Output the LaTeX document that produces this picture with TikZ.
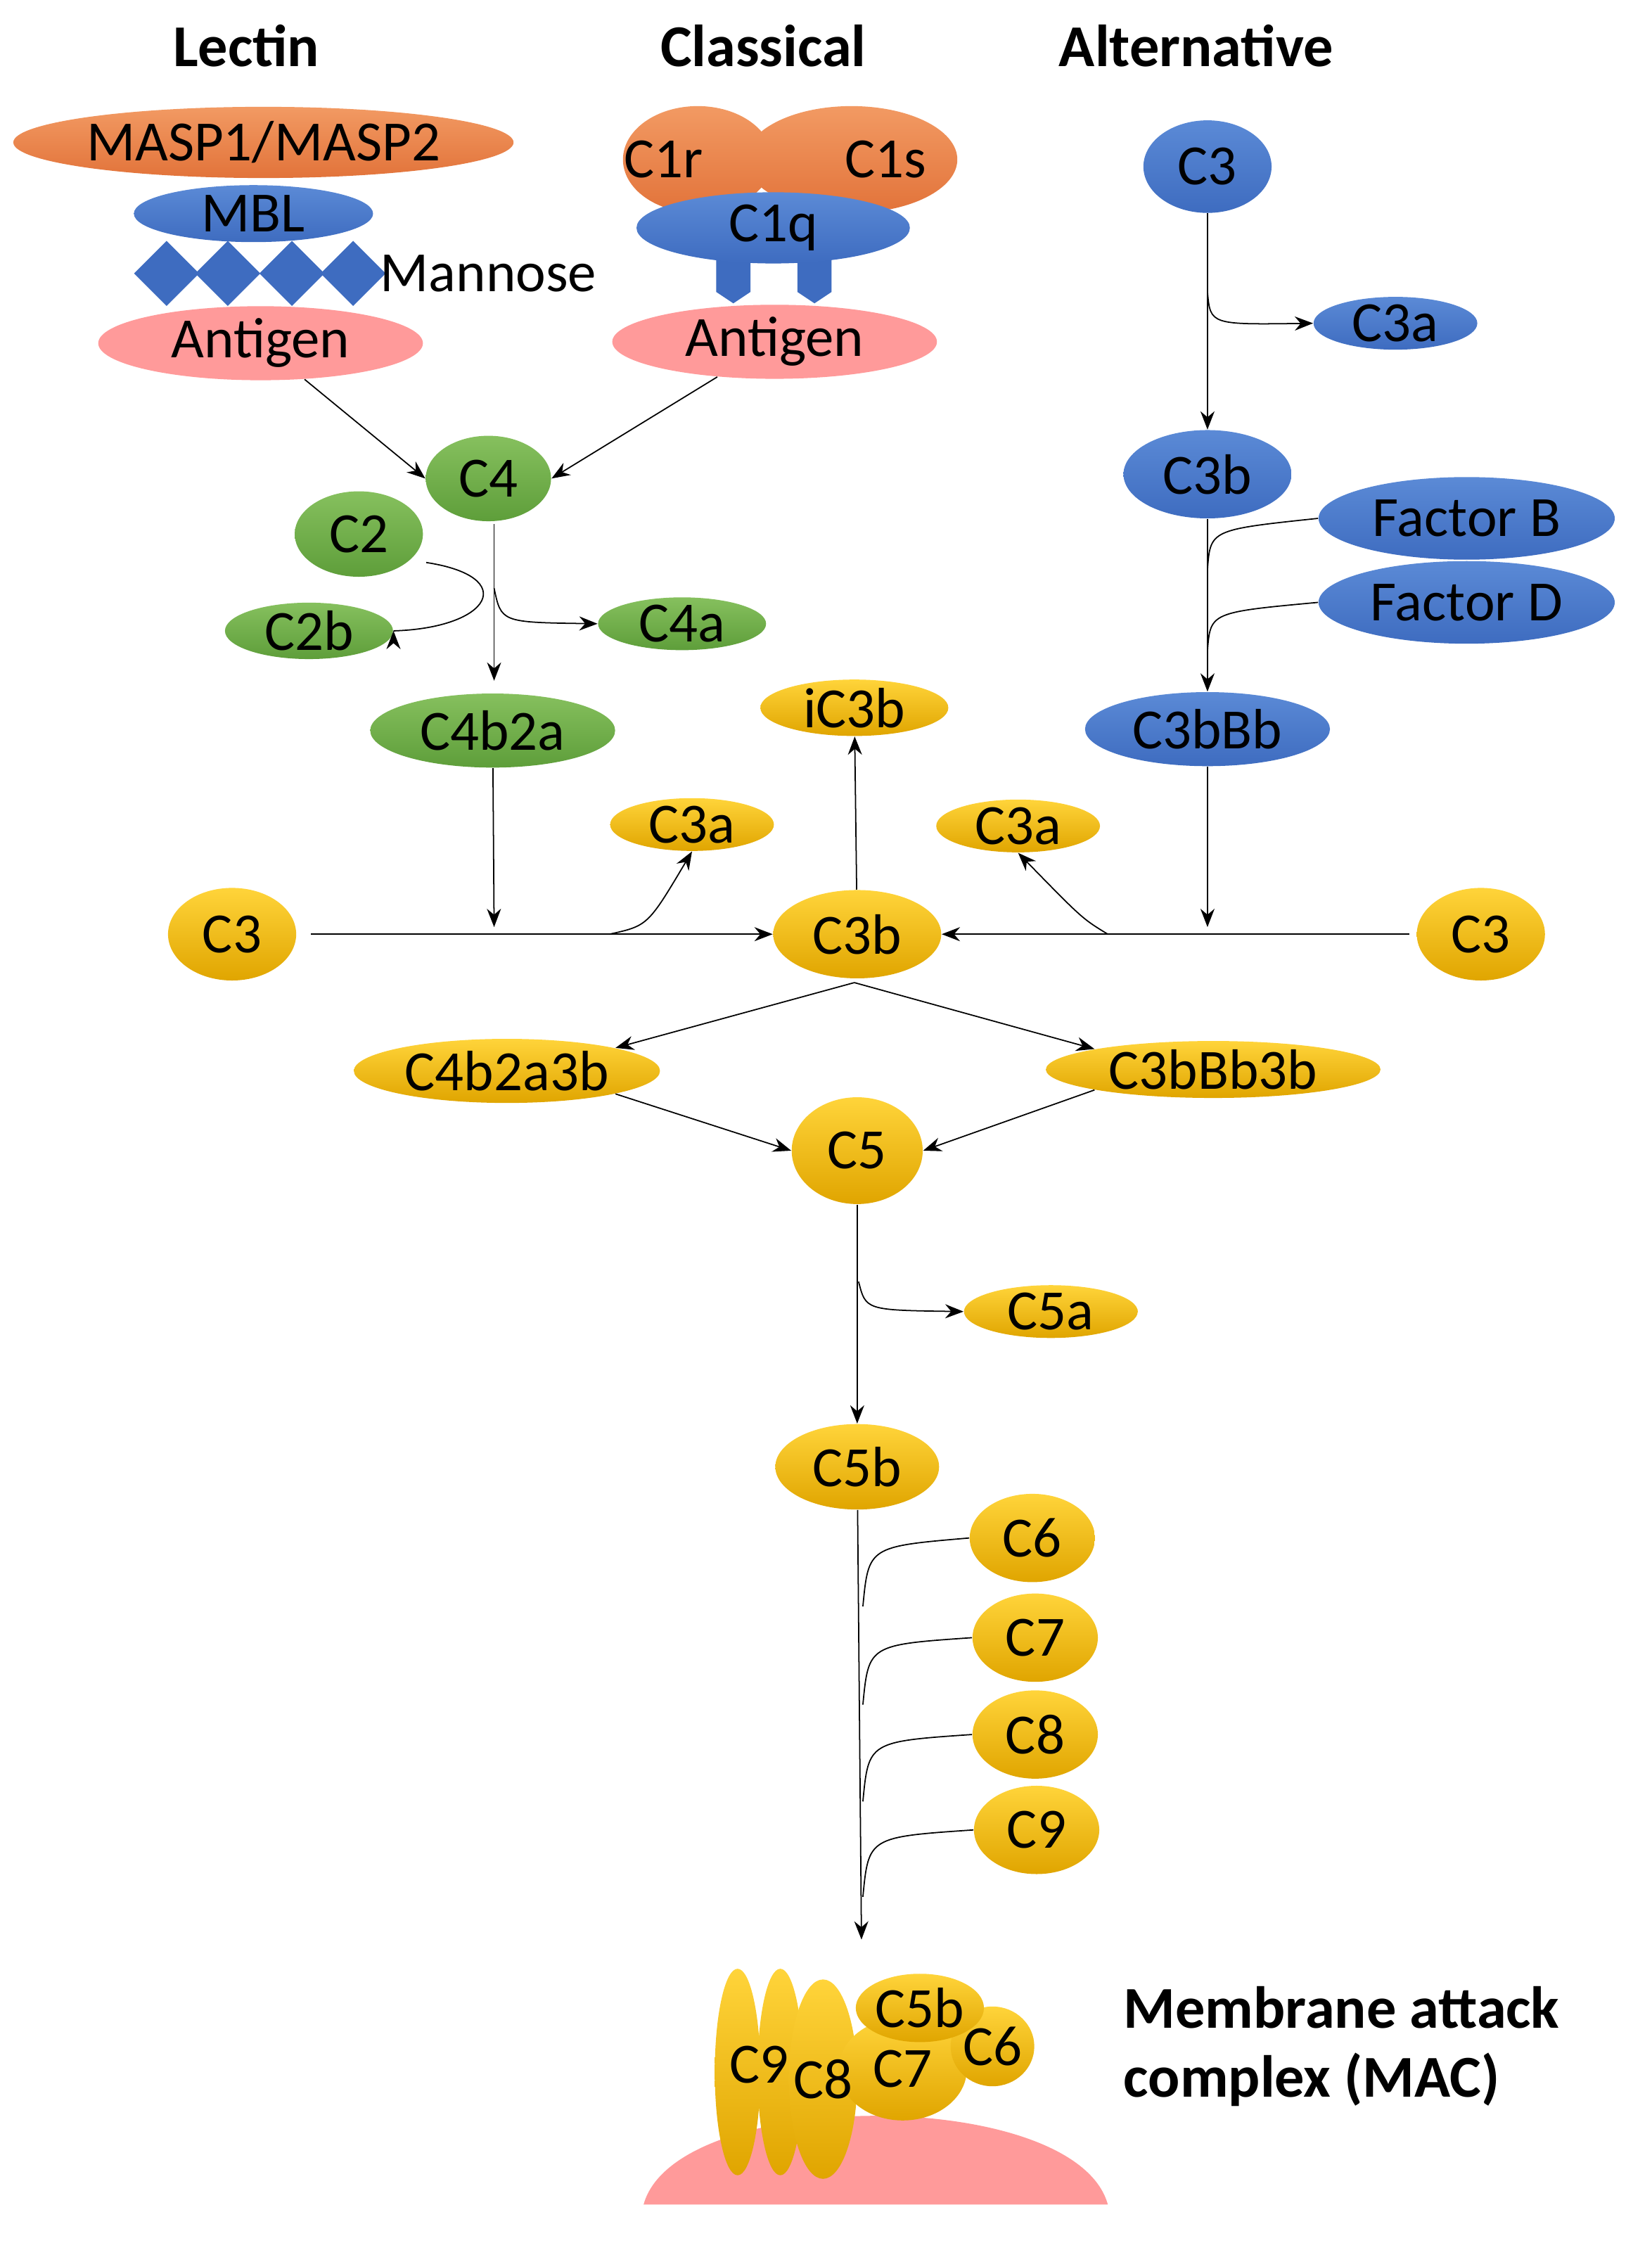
\documentclass[tikz,border=0pt]{standalone}
\usepackage{fontspec}
\setmainfont{Carlito}
\usetikzlibrary{shapes.geometric,arrows.meta}
\definecolor{org}{HTML}{E2733A}\definecolor{orgL}{HTML}{F29A63}
\definecolor{blu}{HTML}{3E6CC0}\definecolor{bluL}{HTML}{5B8AD6}
\definecolor{grn}{HTML}{5E9E3A}\definecolor{grnL}{HTML}{86C05E}
\definecolor{yel}{HTML}{E0A500}\definecolor{yelL}{HTML}{FFD43A}
\definecolor{pnk}{HTML}{FF9A9A}
\begin{document}
\begin{tikzpicture}[x=0.2024mm,y=-0.2024mm,
 e/.style={ellipse,inner sep=0,font=\fontsize{23}{27}\selectfont},
 O/.style={e,top color=orgL,bottom color=org},
 B/.style={e,top color=bluL,bottom color=blu},
 G/.style={e,top color=grnL,bottom color=grn},
 Y/.style={e,top color=yelL,bottom color=yel},
 P/.style={e,fill=pnk},
 sz/.style 2 args={minimum width=#1*0.2024mm,minimum height=#2*0.2024mm},
 ar/.style={-{Stealth[length=2.6mm,width=2mm]},line width=0.5pt},
 ln/.style={line width=0.5pt},
 hd/.style={font=\fontsize{24}{28}\selectfont\bfseries}]
\useasboundingbox (0,0) rectangle (1160,1580);
\node[hd] (h1) at (173,32) {Lectin};
\node[hd] (h2) at (536,32) {Classical};
\node[hd] (h3) at (840,32) {Alternative};
% lectin
\node[O,sz={345}{50}] (masp) at (185,100) {MASP1/MASP2};
\node[B,sz={168}{40}] (mbl) at (178,150) {MBL};
\foreach \x/\n in {117/d1,160/d2,205/d3,248/d4}
  \node[diamond,fill=blu,inner sep=0,minimum size=46*0.2024mm] (\n) at (\x,192) {};
\node[font=\fontsize{23}{27}\selectfont] (man) at (343,192) {Mannose};
\node[P,sz={228}{52}] (agl) at (183,241) {Antigen};
% classical
\node[O,sz={105}{75}] (c1r) at (490,112) {\hspace{-1.2em}C1r};
\node[O,sz={105}{75}] (c1s) at (598,112) {\hspace{1.2em}C1s};
\fill[blu] (503,180) -- (527,180) -- (527,205) -- (515,213) -- (503,205) -- cycle;
\fill[blu] (560,180) -- (584,180) -- (584,205) -- (572,213) -- (560,205) -- cycle;
\node[B,sz={192}{50}] (c1q) at (543,160) {C1q};
\node[P,sz={228}{52}] (agr) at (544,240) {Antigen};
% alternative
\node[B,sz={90}{65}] (c3t) at (848,117) {C3};
\node[B,sz={115}{32}] (c3ab) at (980,227) {C3a};
\node[B,sz={118}{62}] (c3bb) at (848,333) {C3b};
\node[B,sz={208}{58}] (fb) at (1030,364) {Factor B};
\node[B,sz={208}{58}] (fd) at (1030,423) {Factor D};
\node[B,sz={172}{52}] (c3bBb) at (848,512) {C3bBb};
% green
\node[G,sz={88}{60}] (c4) at (343,336) {C4};
\node[G,sz={90}{60}] (c2) at (252,375) {C2};
\node[G,sz={118}{32}] (c2b) at (217,443) {C2b};
\node[G,sz={118}{32}] (c4a) at (479,438) {C4a};
\node[G,sz={172}{52}] (c4b2a) at (346,513) {C4b2a};
% yellow
\node[Y,sz={132}{35}] (ic3b) at (600,497) {iC3b};
\node[Y,sz={115}{32}] (c3al) at (486,579) {C3a};
\node[Y,sz={115}{32}] (c3ar) at (715,580) {C3a};
\node[Y,sz={90}{65}] (c3l) at (163,656) {C3};
\node[Y,sz={118}{62}] (c3b) at (602,656) {C3b};
\node[Y,sz={90}{65}] (c3r) at (1040,656) {C3};
\node[Y,sz={215}{45}] (c4b2a3b) at (356,752) {C4b2a3b};
\node[Y,sz={235}{40}] (c3bBb3b) at (852,751) {C3bBb3b};
\node[Y,sz={92}{75}] (c5) at (602,808) {C5};
\node[Y,sz={122}{32}] (c5a) at (738,921) {C5a};
\node[Y,sz={115}{60}] (c5b) at (602,1030) {C5b};
\node[Y,sz={88}{62}] (c6) at (725,1080) {C6};
\node[Y,sz={88}{62}] (c7) at (727,1150) {C7};
\node[Y,sz={88}{62}] (c8) at (727,1218) {C8};
\node[Y,sz={88}{62}] (c9) at (728,1285) {C9};
% arrows
\draw[ar] (agl) -- (c4.west);
\draw[ar] (agr) -- (c4.east);
\coordinate (k1) at (347,368); \coordinate (k2) at (347,478);
\draw[ar] (k1) -- (k2);
\draw[ar] (c2.east) ++(2,20) .. controls (365,405) and (345,441) .. (c2b.east) ++(0,0);
\coordinate (k3) at (347,413);
\draw[ar] (k3) .. controls (352,437) .. (c4a.west);
\draw[ar] (c3t) -- (c3bb);
\coordinate (k4) at (848,205);
\draw[ar] (k4) .. controls (850,228) .. (c3ab.west);
\draw[ar] (c3bb) -- (c3bBb);
\draw[ln] (fb.west) .. controls (850,372) .. (848,400);
\draw[ln] (fd.west) .. controls (850,430) .. (848,457);
\coordinate (k5) at (347,651);
\draw[ar] (c4b2a) -- (k5);
\draw[ar] (c3l.east) ++(10,0) -- (c3b.west);
\coordinate (k6) at (428,656);
\draw[ar] (k6) .. controls (455,650) .. (c3al.south);
\coordinate (k7) at (848,651);
\draw[ar] (c3bBb) -- (k7);
\draw[ar] (c3r.west) ++(-5,0) -- (c3b.east);
\coordinate (k8) at (778,656);
\draw[ar] (k8) .. controls (760,645) .. (c3ar.south);
\draw[ar] (c3b) -- (ic3b);
\coordinate (k9) at (600,690);
\draw[ar] (k9) -- (c4b2a3b.north east);
\draw[ar] (k9) -- (c3bBb3b.north west);
\draw[ar] (c4b2a3b.south east) -- (c5.west);
\draw[ar] (c3bBb3b.south west) -- (c5.east);
\draw[ar] (c5) -- (c5b);
\coordinate (k10) at (603,900);
\draw[ar] (k10) .. controls (608,920) .. (c5a.west);
\coordinate (k11) at (605,1362);
\draw[ar] (c5b) -- (k11);
\foreach \n/\y in {c6/1083,c7/1152,c8/1220,c9/1287}
  \draw[ln] (\n.west) .. controls (610,\y+3) .. (606,\y+45);
% MAC
\fill[pnk] (452,1548) .. controls (475,1465) and (755,1465) .. (778,1548) -- cycle;
\node[Y,sz={32}{145}] (m9a) at (518,1455) {};
\node[Y,sz={32}{145}] (m9b) at (548,1455) {};
\node[Y,sz={48}{140}] (m8) at (578,1460) {};
\node[Y,sz={90}{72}] (m7) at (634,1453) {C7};
\node[Y,sz={50}{56}] (m6) at (697,1437) {C6};
\node[Y,sz={90}{48}] (m5) at (646,1410) {C5b};
\node[font=\fontsize{23}{27}\selectfont] (t9) at (533,1450) {C9};
\node[font=\fontsize{23}{27}\selectfont] (t8) at (578,1460) {C8};
\node[hd,anchor=west,align=left] (mac) at (783,1437) {Membrane attack\\complex (MAC)};
\end{tikzpicture}
\end{document}
